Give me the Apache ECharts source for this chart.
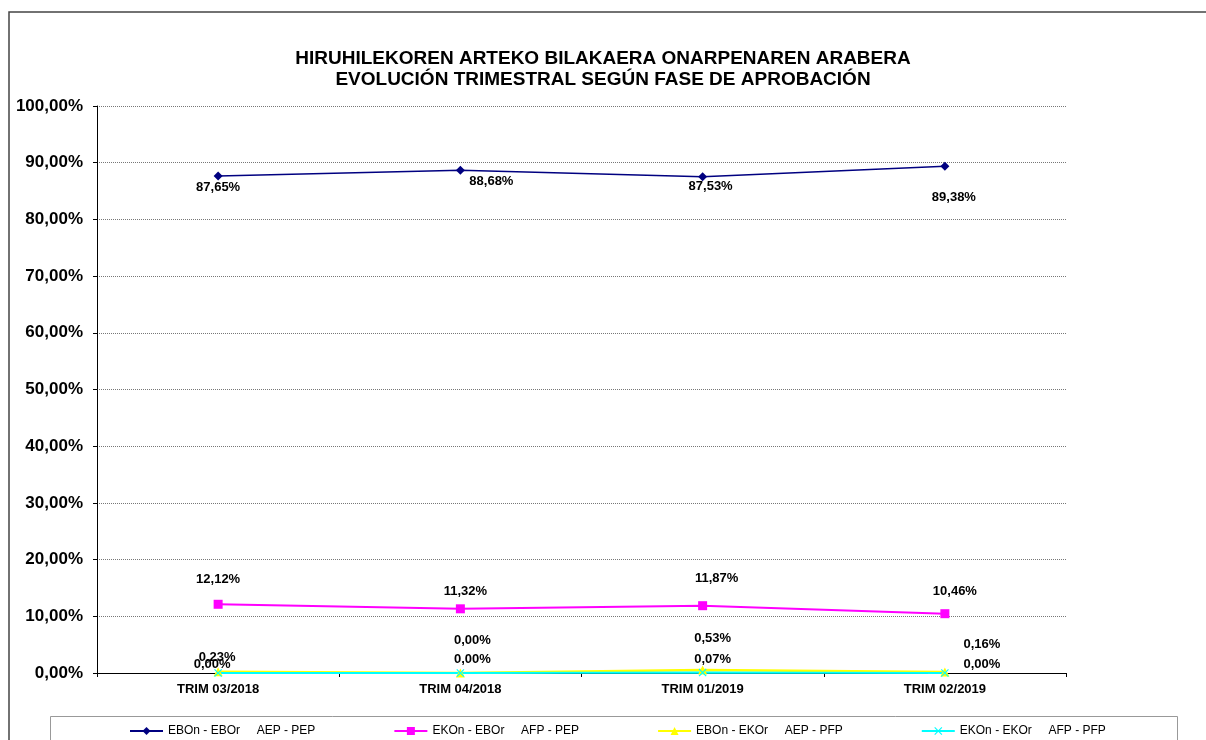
<!DOCTYPE html>
<html>
<head>
<meta charset="utf-8">
<title>Hiruhilekoren arteko bilakaera</title>
<script src="https://cdn.jsdelivr.net/npm/echarts@6/dist/echarts.min.js"></script>
<style>
    html, body { margin: 0; padding: 0; background: #fff; }
    #chart { width: 1206px; height: 740px; }
</style>
</head>
<body>
<div id="chart"></div>
<script>
// datuak / datos
const categories = ['TRIM 03/2018', 'TRIM 04/2018', 'TRIM 01/2019', 'TRIM 02/2019'];
const seriesNames = [
    'EBOn - EBOr     AEP - PEP',
    'EKOn - EBOr     AFP - PEP',
    'EBOn - EKOr     AEP - PFP',
    'EKOn - EKOr     AFP - PFP'
];
const eboEbo = [87.65, 88.68, 87.53, 89.38];
const ekoEbo = [12.12, 11.32, 11.87, 10.46];
const eboEko = [0.23, 0.00, 0.53, 0.16];
const ekoEko = [0.00, 0.00, 0.07, 0.00];
const yTicks = [0, 10, 20, 30, 40, 50, 60, 70, 80, 90, 100];

// label offsets (px) as placed in the original sheet
const offEboEbo = [[0, 11], [31, 11], [8, 10], [9, 31]];
const offEkoEbo = [[0, -25], [5, -17], [14, -27], [10, -22]];
const offEboEko = [[-1, -14], [12, -33], [10, -32], [37, -28]];
const offEkoEko = [[-6, -9], [12, -14], [10, -13], [37, -9]];

const FONT = "'Liberation Sans', Arial, sans-serif";

function pct(v) {
    return v.toFixed(2).replace('.', ',') + '%';
}

function withLabels(values, offsets) {
    return values.map((v, i) => ({
        value: v,
        label: { offset: offsets[i] }
    }));
}

function makeSeries(name, values, offsets, color, symbol, size, width) {
    return {
        name: name,
        type: 'line',
        data: withLabels(values, offsets),
        symbol: symbol,
        symbolSize: size,
        showAllSymbol: true,
        lineStyle: { color: color, width: width },
        itemStyle: { color: color, borderColor: color, borderWidth: 0 },
        label: {
            show: true,
            position: 'inside',
            formatter: p => pct(p.value),
            fontFamily: FONT,
            fontSize: 13,
            fontWeight: 'bold',
            color: '#000'
        },
        emphasis: { disabled: true }
    };
}

const xMark = 'path://M0,1L1,0L5,4L9,0L10,1L6,5L10,9L9,10L5,6L1,10L0,9L4,5Z';

const chart = echarts.init(document.getElementById('chart'));
chart.setOption({
    animation: false,
    backgroundColor: '#fff',
    title: {
        text: 'HIRUHILEKOREN ARTEKO BILAKAERA ONARPENAREN ARABERA\nEVOLUCIÓN TRIMESTRAL SEGÚN FASE DE APROBACIÓN',
        left: 'center',
        top: 43,
        textStyle: {
            fontFamily: FONT,
            fontSize: 19,
            fontWeight: 'bold',
            color: '#000',
            lineHeight: 21
        }
    },
    graphic: [
        {
            type: 'rect',
            shape: { x: 9, y: 12, width: 1220, height: 760 },
            style: { fill: 'none', stroke: '#444', lineWidth: 1.5 },
            silent: true
        },
        {
            type: 'rect',
            shape: { x: 50.5, y: 716.5, width: 1127, height: 60 },
            style: { fill: 'none', stroke: '#999', lineWidth: 1 },
            silent: true
        }
    ],
    legend: {
        left: 124,
        top: 720,
        itemWidth: 33,
        itemHeight: 10,
        itemGap: 78,
        textStyle: {
            fontFamily: FONT,
            fontSize: 12,
            color: '#000'
        },
        data: seriesNames
    },
    grid: { left: 97, top: 106, right: 140, bottom: 67 },
    xAxis: {
        type: 'category',
        data: categories,
        boundaryGap: true,
        axisLine: { lineStyle: { color: '#000', width: 1 } },
        axisTick: { show: true, length: 4, inside: false, lineStyle: { color: '#000' } },
        axisLabel: {
            margin: 10,
            fontFamily: FONT,
            fontSize: 13,
            fontWeight: 'bold',
            color: '#000'
        },
        splitLine: { show: false }
    },
    yAxis: {
        type: 'value',
        min: yTicks[0],
        max: yTicks[yTicks.length - 1],
        interval: yTicks[1] - yTicks[0],
        axisLine: { show: true, lineStyle: { color: '#000', width: 1 } },
        axisTick: { show: true, length: 4, lineStyle: { color: '#000' } },
        axisLabel: {
            margin: 14,
            formatter: v => pct(v),
            fontFamily: FONT,
            fontSize: 17,
            fontWeight: 'bold',
            color: '#000'
        },
        splitLine: { show: true, lineStyle: { color: '#777', type: [1, 1], width: 1 } }
    },
    series: [
        makeSeries(seriesNames[0], eboEbo, offEboEbo, '#000080', 'diamond', 9, 1.6),
        makeSeries(seriesNames[1], ekoEbo, offEkoEbo, '#FF00FF', 'rect', 9, 2),
        makeSeries(seriesNames[2], eboEko, offEboEko, '#FFFF00', 'triangle', 9, 2.5),
        makeSeries(seriesNames[3], ekoEko, offEkoEko, '#00FFFF', xMark, 8, 2)
    ]
});
</script>
</body>
</html>
